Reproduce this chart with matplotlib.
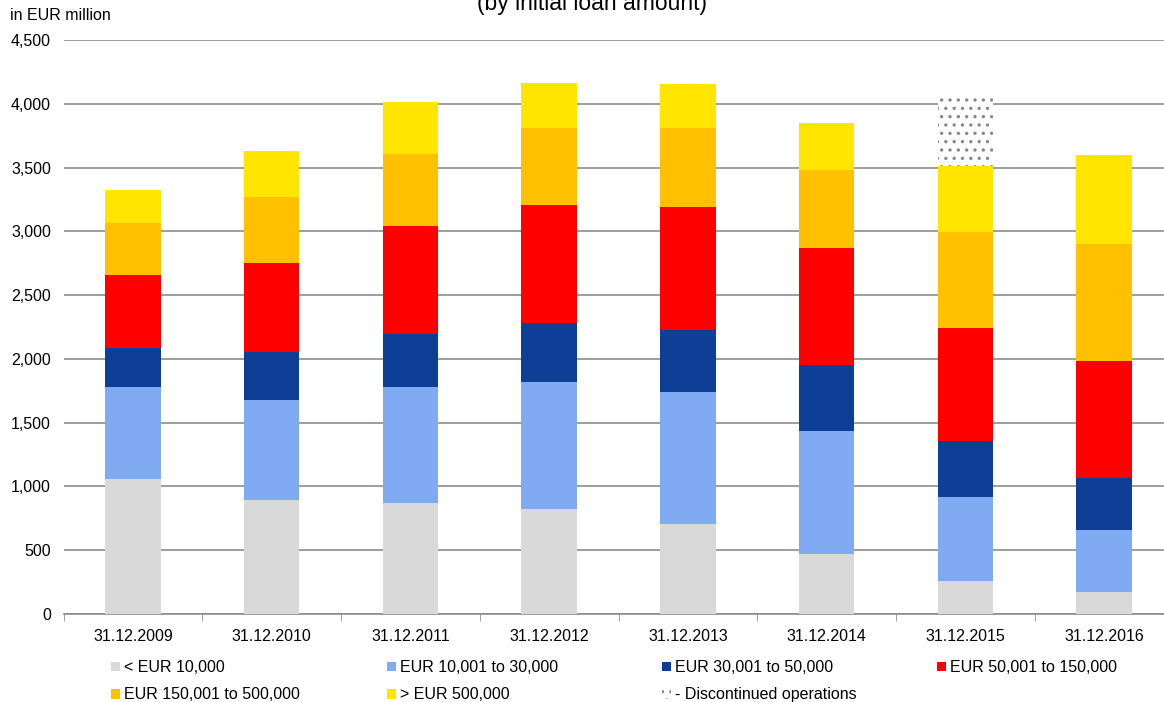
import numpy as np
import matplotlib
matplotlib.use("Agg")
import matplotlib.pyplot as plt
from matplotlib.patches import Patch

plt.rcParams['font.family'] = ['Liberation Sans', 'DejaVu Sans']
plt.rcParams['hatch.linewidth'] = 1.2

# Datos (EUR millones)
fechas = ['31.12.2009', '31.12.2010', '31.12.2011', '31.12.2012',
          '31.12.2013', '31.12.2014', '31.12.2015', '31.12.2016']
hasta_10k = [1058, 896, 869, 820, 709, 468, 260, 171]
de_10k_30k = [725, 785, 909, 996, 1029, 964, 655, 487]
de_30k_50k = [306, 373, 420, 466, 487, 522, 441, 408]
de_50k_150k = [566, 696, 847, 928, 963, 918, 888, 918]
de_150k_500k = [411, 522, 565, 598, 620, 606, 752, 917]
mas_500k = [260, 360, 401, 357, 346, 371, 517, 699]
discontinuadas = [0, 0, 0, 0, 0, 0, 563, 0]

series = [hasta_10k, de_10k_30k, de_30k_50k, de_50k_150k, de_150k_500k, mas_500k]
etiquetas = ['< EUR 10,000', 'EUR 10,001 to 30,000', 'EUR 30,001 to 50,000',
             'EUR 50,001 to 150,000', 'EUR 150,001 to 500,000', '> EUR 500,000']
colores = ['#D9D9D9', '#80AAF2', '#0D3F97', '#FF0000', '#FFC000', '#FFE500']

fig = plt.figure(figsize=(11.64, 7.02), dpi=100)
# el eje se sale un poco por la derecha, como en el original
ax = fig.add_axes([63.5 / 1164, 1 - 614 / 702, 1110 / 1164, 574 / 702])

x = np.arange(len(fechas))
ancho = 0.4
base = np.zeros(len(fechas))
for valores, color in zip(series, colores):
    ax.bar(x, valores, ancho, bottom=base, color=color, edgecolor='none', zorder=3)
    base += np.array(valores)

# Operaciones discontinuadas (punteado)
ax.bar(x, discontinuadas, ancho, bottom=base, color='white', edgecolor='#888888',
       linewidth=0, hatch='..', zorder=3)

ax.set_xlim(-0.5, len(fechas) - 0.5)
ax.set_ylim(0, 4500)
ax.set_yticks(np.arange(0, 4501, 500))
ax.set_yticklabels([f'{v:,}' for v in range(0, 4501, 500)], fontsize=11.5)
ax.yaxis.grid(True, color='#8C8C8C', linewidth=1.2, zorder=0)
ax.tick_params(axis='y', length=0, pad=9)

ax.set_xticks(x)
ax.set_xticklabels(fechas, fontsize=11.5)
ax.set_xticks(np.arange(-0.5, len(fechas)), minor=True)
ax.tick_params(axis='x', which='major', length=0, pad=11)
ax.tick_params(axis='x', which='minor', length=5, color='#8C8C8C', direction='out')

for lado in ['left', 'right', 'top']:
    ax.spines[lado].set_visible(False)
ax.spines['bottom'].set_color('#8C8C8C')
ax.spines['bottom'].set_linewidth(1.2)

fig.text(10 / 1164, 1 - 16 / 702, 'in EUR million', fontsize=11.5, va='center', ha='left')
fig.text(592 / 1164, 1 - 10 / 702, '(by initial loan amount)', fontsize=16.5,
         ha='center', va='baseline')

# Leyenda: una columna por leyenda para controlar posiciones
handles = [Patch(facecolor=c, edgecolor='none') for c in colores]
disc_handle = Patch(facecolor='white', edgecolor='#888888', linewidth=0, hatch='..')
columnas = [
    ([handles[0], handles[4]], [etiquetas[0], etiquetas[4]], 111),
    ([handles[1], handles[5]], [etiquetas[1], etiquetas[5]], 387),
    ([handles[2], disc_handle], [etiquetas[2], '- Discontinued operations'], 662),
    ([handles[3]], [etiquetas[3]], 937),
]
for h, l, px in columnas:
    fig.legend(h, l, loc='upper left', bbox_to_anchor=(px / 1164, 1 - 660 / 702),
               frameon=False, fontsize=11.5, handlelength=0.55, handleheight=0.55,
               handletextpad=0.25, labelspacing=0.78, borderaxespad=0,
               borderpad=0)

fig.savefig('out.png', dpi=100)
